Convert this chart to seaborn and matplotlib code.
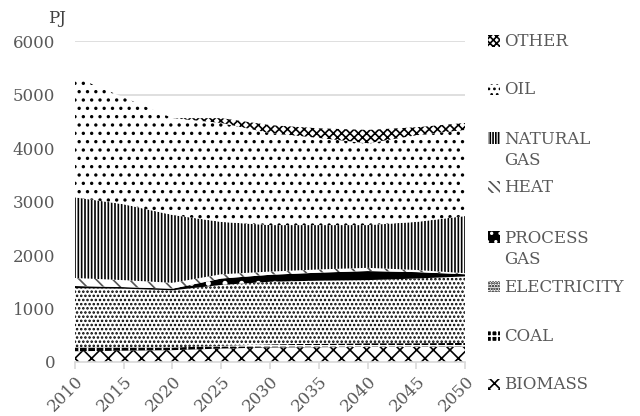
import matplotlib
matplotlib.use("Agg")
import matplotlib.pyplot as plt
from matplotlib.patches import Rectangle
import numpy as np
import pandas as pd
import seaborn as sns

# ── data (PJ) ──────────────────────────────────────────────
years       = [2010, 2015, 2020, 2025, 2030, 2035, 2040, 2045, 2050]
biomass     = [200, 210, 220, 250, 270, 275, 280, 280, 285]
coal        = [70, 60, 50, 50, 60, 65, 70, 70, 70]
electricity = [1110, 1100, 1070, 1140, 1170, 1180, 1180, 1210, 1245]
process_gas = [40, 30, 30, 120, 130, 150, 170, 120, 40]
heat        = [150, 130, 110, 80, 60, 60, 60, 40, 20]
natural_gas = [1510, 1420, 1270, 980, 870, 830, 800, 900, 1070]
oil         = [2250, 2000, 1810, 1850, 1720, 1630, 1530, 1620, 1610]
other       = [0, 0, 0, 90, 150, 180, 250, 150, 130]

labels = ["BIOMASS", "COAL", "ELECTRICITY", "PROCESS\nGAS", "HEAT",
          "NATURAL\nGAS", "OIL", "OTHER"]

df = pd.DataFrame({"year": years, "BIOMASS": biomass, "COAL": coal,
                   "ELECTRICITY": electricity, "PROCESS\nGAS": process_gas,
                   "HEAT": heat, "NATURAL\nGAS": natural_gas, "OIL": oil,
                   "OTHER": other})

# face, hatch colour, hatch pattern per layer
STYLE = {
    "BIOMASS":      ("white", "black", "xx"),
    "COAL":         ("black", "white", "++"),
    "ELECTRICITY":  ("white", "black", "...."),
    "PROCESS\nGAS": ("black", "white", "."),
    "HEAT":         ("white", "#555555", "\\\\"),
    "NATURAL\nGAS": ("white", "black", "|||||"),
    "OIL":          ("white", "black", ".."),
    "OTHER":        ("white", "black", "xxxx"),
}
# denser patterns for the small legend keys
KEY_HATCH = {"BIOMASS": "xxx", "HEAT": "\\\\\\\\", "OIL": "...", "PROCESS\nGAS": "..",
             "COAL": "+++", "OTHER": "xxxxx", "ELECTRICITY": "......",
             "NATURAL\nGAS": "||||||"}

sns.set_theme(style="white")
plt.rcParams["font.family"] = ["DejaVu Serif"]
plt.rcParams["hatch.linewidth"] = 1.2

fig = plt.figure(figsize=(6.4, 4.16), dpi=100)
ax = fig.add_axes([0.117, 0.130, 0.610, 0.771])

polys = ax.stackplot(df["year"], *[df[l] for l in labels], linewidth=0)
for poly, l in zip(polys, labels):
    fc, hc, h = STYLE[l]
    poly.set_facecolor(fc)
    poly.set_edgecolor(hc)
    poly.set_hatch(h)
    poly.set_linewidth(0)

ax.set_xlim(2010, 2050)
ax.set_ylim(0, 6000)
ax.set_yticks(range(0, 6001, 1000))
ax.set_xticks(range(2010, 2051, 5))
ax.yaxis.grid(True, color="#d9d9d9", lw=1.2)
ax.set_axisbelow(True)
for s in ["left", "right", "top"]:
    ax.spines[s].set_visible(False)
ax.spines["bottom"].set_color("#d9d9d9")
ax.spines["bottom"].set_linewidth(1.2)
ax.tick_params(axis="y", length=0, labelsize=12, labelcolor="#595959", pad=14)
ax.tick_params(axis="x", length=5, width=1.2, color="#d9d9d9", direction="out",
               labelsize=12, labelcolor="#595959", bottom=True, pad=3)
plt.setp(ax.get_xticklabels(), rotation=45, ha="right", rotation_mode="anchor")
fig.text(0.075, 0.955, "PJ", fontsize=12, color="#404040", ha="left", va="center")

# legend, top entry first
ys = [0.901, 0.784, 0.668, 0.550, 0.430, 0.310, 0.192, 0.075]
for l, y in zip(labels[::-1], ys):
    fc, hc, _ = STYLE[l]
    fig.patches.append(Rectangle((0.762, y - 0.013), 0.019, 0.028, transform=fig.transFigure,
                                 facecolor=fc, edgecolor=hc, hatch=KEY_HATCH[l], lw=0))
    yc = y - 0.029 if "\n" in l else y
    fig.text(0.787, yc, l, fontsize=12, color="#595959",
             ha="left", va="center", linespacing=1.35)

fig.savefig("out.png", dpi=100)
